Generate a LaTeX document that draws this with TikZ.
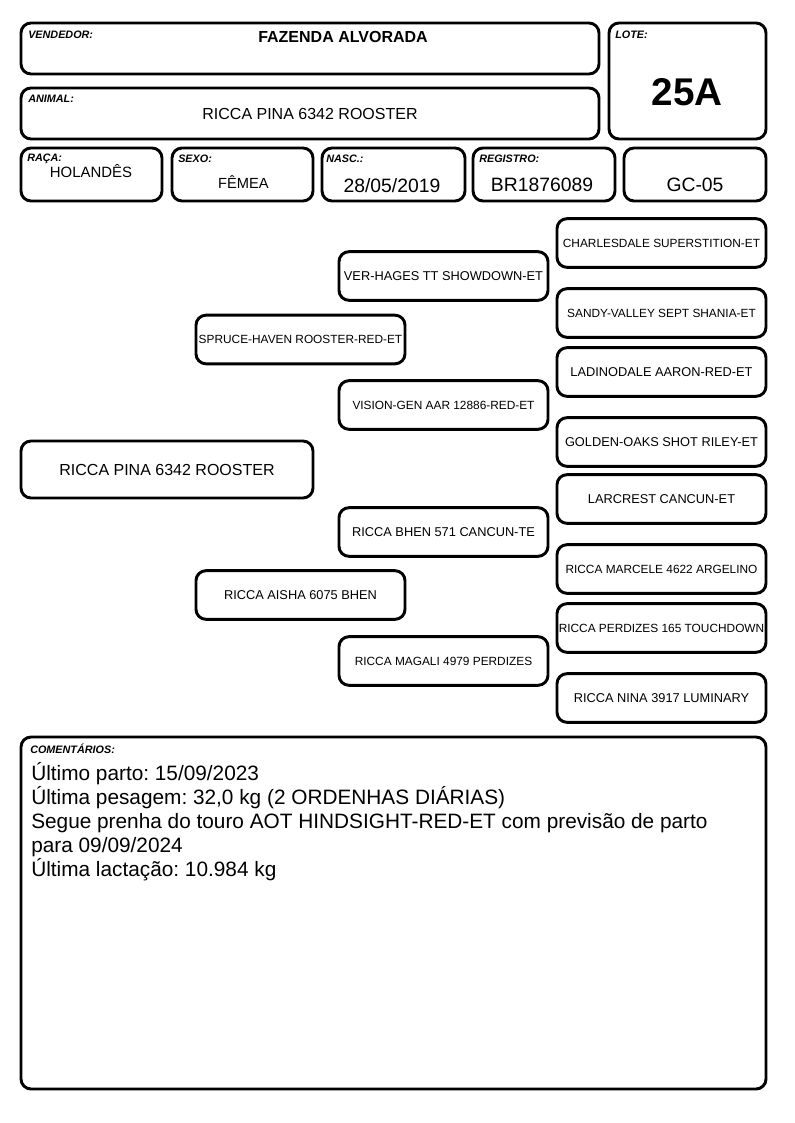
\documentclass[tikz,border=0pt]{standalone}
\usepackage{fontspec}
\setmainfont{Liberation Sans}
\frenchspacing
\newcommand{\fs}[1]{\fontsize{#1}{#1}\selectfont}
\tikzset{
  cell/.style={draw, line width=2.2pt, rounded corners=7.5pt, inner sep=0pt},
  tag/.style={anchor=base west, inner sep=0pt, font=\fs{8.1}\bfseries\itshape},
  val/.style={anchor=base, inner sep=0pt},
  ped0/.style={cell, minimum width=219pt, minimum height=42.75pt, font=\fs{12}},
  pedbox/.style={cell, minimum width=156.75pt, minimum height=36.5pt, font=\fs{9.6}},
  pedsm/.style={pedbox, font=\fs{8.9}},
  note/.style={anchor=base west, inner sep=0pt, font=\fs{15.6}},
}
\begin{document}
\begin{tikzpicture}[x=0.75pt, y=-0.75pt]
\useasboundingbox (0,0) rectangle (794,1123);
% header
\node[cell, minimum width=433.5pt, minimum height=38.25pt] (vend) at (310,48.5) {};
\node[tag] (vend_t) at (28,39) {VENDEDOR:};
\node[val, font=\fs{12}\bfseries] (vend_v) at (343,43) {FAZENDA ALVORADA};
\node[cell, minimum width=433.5pt, minimum height=38.25pt] (anim) at (310,113.5) {};
\node[tag] (anim_t) at (28,103) {ANIMAL:};
\node[val, font=\fs{12}] (anim_v) at (310,120) {RICCA PINA 6342 ROOSTER};
\node[cell, minimum width=117.75pt, minimum height=87pt] (lote) at (687.5,81) {};
\node[tag] (lote_t) at (615,39) {LOTE:};
\node[val, font=\fs{29}\bfseries] (lote_v) at (687,105.5) {25A};
\node[cell, minimum width=105.75pt, minimum height=39.75pt] (raca) at (91.5,174.5) {};
\node[tag] (raca_t) at (27,162) {RAÇA:};
\node[val, font=\fs{11.2}] (raca_v) at (91,178) {HOLANDÊS};
\node[cell, minimum width=105.75pt, minimum height=39.75pt] (sexo) at (242.5,174.5) {};
\node[tag] (sexo_t) at (178,163) {SEXO:};
\node[val, font=\fs{11}] (sexo_v) at (243.5,189) {FÊMEA};
\node[cell, minimum width=107.25pt, minimum height=39.75pt] (nasc) at (393.5,174.5) {};
\node[tag] (nasc_t) at (326,163) {NASC.:};
\node[val, font=\fs{14.5}] (nasc_v) at (392,192.5) {28/05/2019};
\node[cell, minimum width=106.5pt, minimum height=39.75pt] (reg) at (544,174.5) {};
\node[tag] (reg_t) at (479,163) {REGISTRO:};
\node[val, font=\fs{14.5}] (reg_v) at (542,192) {BR1876089};
\node[cell, minimum width=106.5pt, minimum height=39.75pt] (gc) at (695,174.5) {};
\node[val, font=\fs{14.5}] (gc_v) at (695,192) {GC-05};
% pedigree
\node[ped0] (P_0) at (167,469.5) {RICCA PINA 6342 ROOSTER};
\node[pedsm] (P_s) at (300.5,339.5) {SPRUCE-HAVEN ROOSTER-RED-ET};
\node[pedbox] (P_d) at (300.5,595) {RICCA AISHA 6075 BHEN};
\node[pedbox] (P_ss) at (443.5,276) {VER-HAGES TT SHOWDOWN-ET};
\node[pedsm] (P_sd) at (443.5,405) {VISION-GEN AAR 12886-RED-ET};
\node[pedbox] (P_ds) at (443.5,532) {RICCA BHEN 571 CANCUN-TE};
\node[pedsm] (P_dd) at (443.5,661) {RICCA MAGALI 4979 PERDIZES};
\node[pedsm] (P_sss) at (661.5,243) {CHARLESDALE SUPERSTITION-ET};
\node[pedsm] (P_ssd) at (661.5,313) {SANDY-VALLEY SEPT SHANIA-ET};
\node[pedbox] (P_sds) at (661.5,372) {LADINODALE AARON-RED-ET};
\node[pedbox] (P_sdd) at (661.5,442) {GOLDEN-OAKS SHOT RILEY-ET};
\node[pedbox] (P_dss) at (661.5,499) {LARCREST CANCUN-ET};
\node[pedsm] (P_dsd) at (661.5,569) {RICCA MARCELE 4622 ARGELINO};
\node[pedsm] (P_dds) at (661.5,628) {RICCA PERDIZES 165 TOUCHDOWN};
\node[pedbox] (P_ddd) at (661.5,698) {RICCA NINA 3917 LUMINARY};
% comments
\node[cell, minimum width=558.75pt, minimum height=264pt] (com) at (393.5,913) {};
\node[tag] (com_t) at (30,753) {COMENTÁRIOS:};
\node[note] (com_1) at (31,780) {Último parto: 15/09/2023};
\node[note] (com_2) at (31,804) {Última pesagem: 32,0 kg (2 ORDENHAS DIÁRIAS)};
\node[note] (com_3) at (31,828) {Segue prenha do touro AOT HINDSIGHT-RED-ET com previsão de parto};
\node[note] (com_4) at (31,852) {para 09/09/2024};
\node[note] (com_5) at (31,876) {Última lactação: 10.984 kg};
\end{tikzpicture}
\end{document}
